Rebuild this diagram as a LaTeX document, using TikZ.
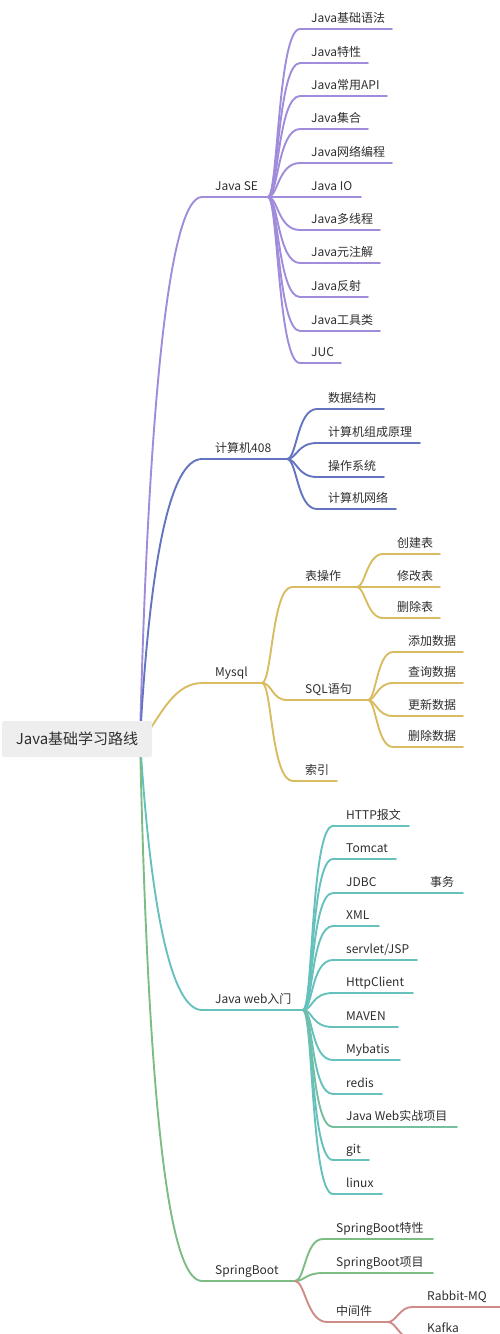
\documentclass[tikz,border=0pt]{standalone}
\usepackage{fontspec}
\setmainfont{Noto Sans CJK SC}
\usetikzlibrary{positioning}
\definecolor{mmtext}{HTML}{2E2E2E}
\definecolor{mmroot}{HTML}{EEEEEE}
\definecolor{mmpurple}{HTML}{A08CDA}
\definecolor{mmblue}{HTML}{6475BF}
\definecolor{mmyellow}{HTML}{D9BC62}
\definecolor{mmteal}{HTML}{66C1BD}
\definecolor{mmgreen}{HTML}{7DBD85}
\definecolor{mmred}{HTML}{CF8B87}
\tikzset{
  topic/.style={anchor=base west, inner sep=0pt, text=mmtext,
                font=\fontsize{12}{14}\selectfont},
  rootbox/.style={fill=mmroot, rounded corners=2pt, inner sep=0pt, text=mmtext,
                  minimum width=150pt, minimum height=36pt,
                  font=\fontsize{15}{18}\selectfont},
  branch/.style={line width=1.9pt, line cap=round},
}
\begin{document}
\begin{tikzpicture}[x=1pt, y=-1pt]
  \useasboundingbox (0,0) rectangle (500,1334);
  \clip (0,0) rectangle (500,1334);
  % hub under the root box
  \coordinate (hub) at (140,739);
  \coordinate (hubR) at (150,729);
  % main branches
  \coordinate (se) at (202,197);   \coordinate (seF) at (268,197);
  \coordinate (cs) at (202,459);   \coordinate (csF) at (287,459);
  \coordinate (my) at (202,683);   \coordinate (myF) at (262,683);
  \coordinate (jw) at (202,1010);  \coordinate (jwF) at (303,1010);
  \coordinate (sb) at (202,1281);  \coordinate (sbF) at (295,1281);
  \draw[branch, mmpurple] (hub) .. controls (148,420) and (168,197) .. (se) -- (seF);
  \draw[branch, mmblue] (hub) .. controls (150,560) and (170,459) .. (cs) -- (csF);
  \draw[branch, mmyellow] (hubR) .. controls (162,712) and (176,683) .. (my) -- (myF);
  \draw[branch, mmteal] (hub) .. controls (150,900) and (170,1010) .. (jw) -- (jwF);
  \draw[branch, mmgreen] (hub) .. controls (148,1100) and (168,1281) .. (sb) -- (sbF);
  \node[topic] (seT) at (215,190) {Java SE};
  \node[topic] (csT) at (215,452) {计算机408};
  \node[topic] (myT) at (215,676) {Mysql};
  \node[topic] (jwT) at (215,1003) {Java web入门};
  \node[topic] (sbT) at (215,1274) {SpringBoot};
  % root
  \node[rootbox] (root) at (77,739) {Java基础学习路线};

  % Java SE
  \foreach \n/\y/\e/\lab in {a/29/392/Java基础语法, b/63/368/Java特性,
      c/96/387/Java常用API, d/129/368/Java集合, e/163/392/Java网络编程,
      f/197/361/Java IO, g/230/380/Java多线程, h/263/380/Java元注解,
      i/297/368/Java反射, j/331/380/Java工具类, k/363/341/JUC} {
    \coordinate (se\n) at (300,\y);
    \draw[branch, mmpurple] (seF) .. controls +(10,0) and +(-22,0) .. (se\n) -- (\e,\y);
    \node[topic] (se\n-t) at (311,\y-7) {\lab};
  }

  % 408
  \foreach \n/\y/\e/\lab in {a/409/384/数据结构, b/443/420/计算机组成原理,
      c/477/384/操作系统, d/509/396/计算机网络} {
    \coordinate (cs\n) at (317,\y);
    \draw[branch, mmblue] (csF) .. controls +(10,0) and +(-20,0) .. (cs\n) -- (\e,\y);
    \node[topic] (cs\n-t) at (328,\y-7) {\lab};
  }

  % Mysql
  \coordinate (tb) at (292,587);  \coordinate (tbF) at (357,587);
  \coordinate (sq) at (287,700);  \coordinate (sqF) at (368,700);
  \coordinate (sy) at (293,781);
  \draw[branch, mmyellow] (myF) .. controls +(10,0) and +(-20,0) .. (tb) -- (tbF);
  \draw[branch, mmyellow] (myF) .. controls +(10,0) and +(-15,0) .. (sq) -- (sqF);
  \draw[branch, mmyellow] (myF) .. controls +(10,0) and +(-22,0) .. (sy) -- (337,781);
  \node[topic] (tbT) at (305,580) {表操作};
  \node[topic] (sqT) at (305,693) {SQL语句};
  \node[topic] (syT) at (305,774) {索引};
  \foreach \n/\y/\lab in {a/554/创建表, b/587/修改表, c/618/删除表} {
    \coordinate (tb\n) at (383,\y);
    \draw[branch, mmyellow] (tbF) .. controls +(8,0) and +(-16,0) .. (tb\n) -- (440,\y);
    \node[topic] (tb\n-t) at (397,\y-7) {\lab};
  }
  \foreach \n/\y/\lab in {a/652/添加数据, b/683/查询数据, c/716/更新数据, d/747/删除数据} {
    \coordinate (sq\n) at (393,\y);
    \draw[branch, mmyellow] (sqF) .. controls +(8,0) and +(-16,0) .. (sq\n) -- (463,\y);
    \node[topic] (sq\n-t) at (408,\y-7) {\lab};
  }

  % Java web
  \foreach \n/\y/\e/\lab in {a/826/409/HTTP报文, b/859/396/Tomcat, c/893/418/JDBC,
      d/926/379/XML, e/960/417/{servlet/JSP}, f/993/413/HttpClient,
      g/1027/398/MAVEN, h/1060/400/Mybatis, i/1094/382/redis,
      k/1160/369/git, l/1194/382/linux} {
    \coordinate (jw\n) at (333,\y);
    \draw[branch, mmteal] (jwF) .. controls +(10,0) and +(-22,0) .. (jw\n) -- (\e,\y);
    \node[topic] (jw\n-t) at (346,\y-7) {\lab};
  }
  \coordinate (jwj) at (333,1127);
  \draw[branch, mmteal!45!mmgreen] (jwF) .. controls +(10,0) and +(-22,0) .. (jwj) -- (457,1127);
  \node[topic] (jwj-t) at (346,1120) {Java Web实战项目};
  \coordinate (tx) at (463,893);
  \draw[branch, mmteal] (418,893) -- (tx);
  \node[topic] (txT) at (430,886) {事务};

  % SpringBoot
  \foreach \n/\y/\lab in {a/1239/SpringBoot特性, b/1273/SpringBoot项目} {
    \coordinate (sb\n) at (323,\y);
    \draw[branch, mmgreen] (sbF) .. controls +(10,0) and +(-18,0) .. (sb\n) -- (433,\y);
    \node[topic] (sb\n-t) at (336,\y-7) {\lab};
  }
  \coordinate (mw) at (327,1322);  \coordinate (mwF) at (388,1322);
  \draw[branch, mmred] (sbF) .. controls +(10,0) and +(-20,0) .. (mw) -- (mwF);
  \node[topic] (mwT) at (336,1315) {中间件};
  \foreach \n/\y/\lab in {a/1307/Rabbit-MQ, b/1339/Kafka} {
    \coordinate (mw\n) at (412,\y);
    \draw[branch, mmred] (mwF) .. controls +(8,0) and +(-12,0) .. (mw\n) -- (500,\y);
    \node[topic] (mw\n-t) at (427,\y-7) {\lab};
  }
\end{tikzpicture}
\end{document}
